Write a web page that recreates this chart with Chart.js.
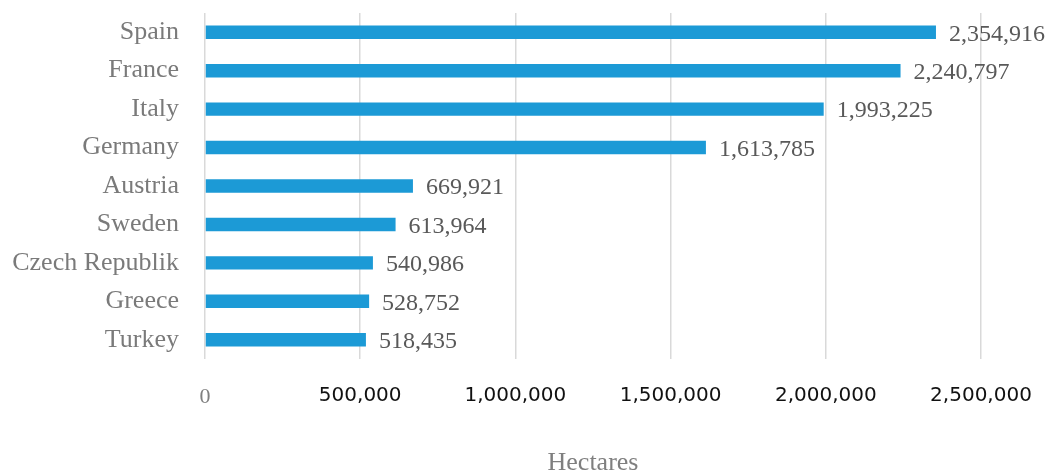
<!DOCTYPE html>
<html>
<head>
<meta charset="utf-8">
<script src="https://cdn.jsdelivr.net/npm/chart.js@4/dist/chart.umd.min.js"></script>
<style>
    html, body { margin: 0; padding: 0; background: #fff; }
    #wrap { width: 1048px; height: 472px; }
</style>
</head>
<body>
<div id="wrap"><canvas id="areaChart" width="1048" height="472"></canvas></div>
<script>
const countries = ['Spain', 'France', 'Italy', 'Germany', 'Austria', 'Sweden', 'Czech Republik', 'Greece', 'Turkey'];
const hectares = [2354916, 2240797, 1993225, 1613785, 669921, 613964, 540986, 528752, 518435];
const xTicks = [0, 500000, 1000000, 1500000, 2000000, 2500000];

const serif = '"Liberation Serif", "Times New Roman", serif';

// draws the value next to each bar
const valueLabels = {
    id: 'valueLabels',
    afterDatasetsDraw(chart) {
        const ctx = chart.ctx;
        const meta = chart.getDatasetMeta(0);
        ctx.save();
        ctx.font = '24px ' + serif;
        ctx.fillStyle = '#595959';
        ctx.textBaseline = 'middle';
        ctx.textAlign = 'left';
        meta.data.forEach(function(bar, i) {
            ctx.fillText(hectares[i].toLocaleString('en-US'), bar.x + 13, bar.y + 2);
        });
        ctx.restore();
    }
};

const ctx = document.getElementById('areaChart').getContext('2d');
const areaChart = new Chart(ctx, {
    type: 'bar',
    data: {
        labels: countries,
        datasets: [{
            data: hectares,
            backgroundColor: '#1c9ad6',
            borderWidth: 0,
            barPercentage: 0.35,
            categoryPercentage: 1
        }]
    },
    options: {
        indexAxis: 'y',
        responsive: false,
        animation: false,
        layout: {
            padding: { top: 13, right: 67, bottom: 0, left: 0 }
        },
        plugins: {
            legend: { display: false },
            tooltip: { enabled: false }
        },
        scales: {
            x: {
                min: 0,
                max: 2500000,
                afterBuildTicks: function(scale) {
                    scale.ticks = xTicks.map(function(v) { return { value: v }; });
                },
                afterFit: function(scale) {
                    scale.height = 113;
                    scale.paddingLeft = 0;
                    scale.paddingRight = 0;
                },
                grid: {
                    color: '#d9d9d9',
                    lineWidth: 1.5,
                    drawTicks: false
                },
                border: { display: false },
                ticks: {
                    padding: 25,
                    maxRotation: 0,
                    callback: function(value) {
                        return value.toLocaleString('en-US');
                    },
                    color: function(c) {
                        return c.tick && c.tick.value === 0 ? '#7f7f7f' : '#111111';
                    },
                    font: function(c) {
                        if (c.tick && c.tick.value === 0) {
                            return { family: serif, size: 22 };
                        }
                        return { family: 'Tahoma, "DejaVu Sans", sans-serif', size: 20 };
                    }
                },
                title: {
                    display: true,
                    text: 'Hectares',
                    color: '#7f7f7f',
                    font: { family: serif, size: 26 },
                    padding: { top: 0, bottom: -7 }
                }
            },
            y: {
                afterFit: function(scale) {
                    scale.width = 205;
                    scale.paddingTop = 0;
                    scale.paddingBottom = 0;
                },
                grid: { display: false, drawTicks: false },
                border: { display: false },
                ticks: {
                    padding: 26,
                    color: '#7a7a7a',
                    font: { family: serif, size: 26 }
                }
            }
        }
    },
    plugins: [valueLabels]
});
</script>
</body>
</html>
